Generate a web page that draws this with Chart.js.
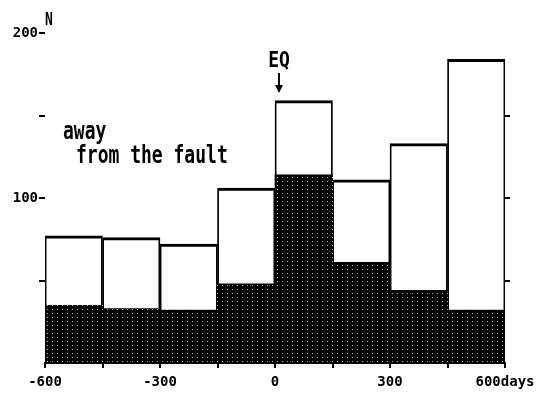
<!DOCTYPE html>
<html>
<head>
<meta charset="utf-8">
<script src="https://cdn.jsdelivr.net/npm/chart.js@4"></script>
<style>
    body { margin: 0; background: #fff; }
    canvas { display: block; }
</style>
</head>
<body>
<canvas id="histChart" width="549" height="395"></canvas>
<script>
// Bins of 150 days, relative to the earthquake (day 0)
const binCenters = [-525, -375, -225, -75, 75, 225, 375, 525];
// Total counts per bin (top of the white bars)
const totalCounts = [77, 76, 72, 106, 159, 111, 133, 184];
// Counts near the fault (dotted part at the bottom)
const nearCounts = [35, 33, 32, 48, 114, 61, 44, 32];
// Axis tick labels
const yLabels = { 100: '100', 200: '200' };
const xLabels = { '-600': '-600', '-300': '-300', '0': '0', '300': '300', '600': '600days' };

const FONT = 'DejaVu Sans Mono';

// Dotted halftone fill like the printed figure
function makeDots() {
    const c = document.createElement('canvas');
    c.width = 5;
    c.height = 4;
    const g = c.getContext('2d');
    g.fillStyle = '#000';
    g.fillRect(0, 0, 5, 4);
    g.fillStyle = '#b4b4b4';
    g.fillRect(2, 1, 1, 1);
    return g.createPattern(c, 'repeat');
}

// Tall, narrow print-style text
function tallText(ctx, text, x, y, size, stretch) {
    ctx.save();
    ctx.translate(x, y);
    ctx.scale(1, stretch);
    ctx.font = `bold ${size}px "${FONT}"`;
    ctx.fillText(text, 0, 0);
    ctx.restore();
}

const annotations = {
    id: 'annotations',
    afterDraw(chart) {
        const { ctx } = chart;
        const x = chart.scales.x;
        const y = chart.scales.y;
        ctx.save();
        ctx.fillStyle = '#000';
        ctx.strokeStyle = '#000';
        ctx.textBaseline = 'alphabetic';

        // "N" unit label above the 200 tick
        tallText(ctx, 'N', y.right, y.getPixelForValue(200) - 8, 13, 1.3);

        // note on the white part
        tallText(ctx, 'away', 63, 139, 18, 1.4);
        tallText(ctx, 'from the fault', 76, 163, 18, 1.4);

        // EQ marker with arrow at day 0
        const ex = x.getPixelForValue(0) + 4;
        ctx.textAlign = 'center';
        tallText(ctx, 'EQ', ex, 67, 18, 1.15);
        ctx.lineWidth = 2;
        ctx.beginPath();
        ctx.moveTo(ex, 73);
        ctx.lineTo(ex, 88);
        ctx.stroke();
        ctx.beginPath();
        ctx.moveTo(ex - 4, 85);
        ctx.lineTo(ex + 4, 85);
        ctx.lineTo(ex, 93);
        ctx.closePath();
        ctx.fill();
        ctx.restore();
    }
};

const ctx = document.getElementById('histChart').getContext('2d');

new Chart(ctx, {
    type: 'bar',
    data: {
        datasets: [
            {
                label: 'near the fault',
                data: binCenters.map((c, i) => ({ x: c, y: nearCounts[i] })),
                backgroundColor: makeDots(),
                borderColor: '#000',
                borderWidth: 0,
                barPercentage: 1,
                categoryPercentage: 1
            },
            {
                label: 'away from the fault',
                data: binCenters.map((c, i) => ({ x: c, y: totalCounts[i] - nearCounts[i] })),
                backgroundColor: '#fff',
                borderColor: '#000',
                borderWidth: { top: 3, left: 1.8, right: 1.8, bottom: 0 },
                borderSkipped: 'start',
                barPercentage: 1,
                categoryPercentage: 1
            }
        ]
    },
    options: {
        responsive: false,
        animation: false,
        layout: { padding: { top: 33 } },
        scales: {
            x: {
                type: 'linear',
                stacked: true,
                offset: false,
                min: -600,
                max: 600,
                border: { display: true, color: '#000', width: 2 },
                grid: { offset: false, drawOnChartArea: false, color: '#000', lineWidth: 2, tickLength: 5 },
                ticks: {
                    stepSize: 150,
                    autoSkip: false,
                    maxRotation: 0,
                    padding: 6,
                    color: '#000',
                    font: { family: FONT, size: 14, weight: 'bold' },
                    callback: v => xLabels[String(v)] ?? ''
                },
                afterFit: s => { s.height = 32; }
            },
            y: {
                stacked: true,
                min: 0,
                max: 200,
                border: { display: false },
                grid: {
                    drawOnChartArea: false,
                    color: c => (c.tick && c.tick.value === 0) ? 'rgba(0,0,0,0)' : '#000',
                    lineWidth: 2,
                    tickLength: 6
                },
                ticks: {
                    stepSize: 50,
                    padding: 1,
                    color: '#000',
                    font: { family: FONT, size: 14, weight: 'bold' },
                    callback: v => yLabels[v] ?? ''
                },
                afterFit: s => { s.width = 45; }
            },
            y2: {
                position: 'right',
                min: 0,
                max: 200,
                border: { display: false },
                grid: {
                    drawOnChartArea: false,
                    color: c => (c.tick && (c.tick.value === 0 || c.tick.value === 200)) ? 'rgba(0,0,0,0)' : '#000',
                    lineWidth: 2,
                    tickLength: 5
                },
                ticks: { stepSize: 50, callback: () => '' },
                afterFit: s => { s.width = 44; }
            }
        },
        plugins: {
            legend: { display: false },
            tooltip: { enabled: false }
        }
    },
    plugins: [annotations]
});
</script>
</body>
</html>
